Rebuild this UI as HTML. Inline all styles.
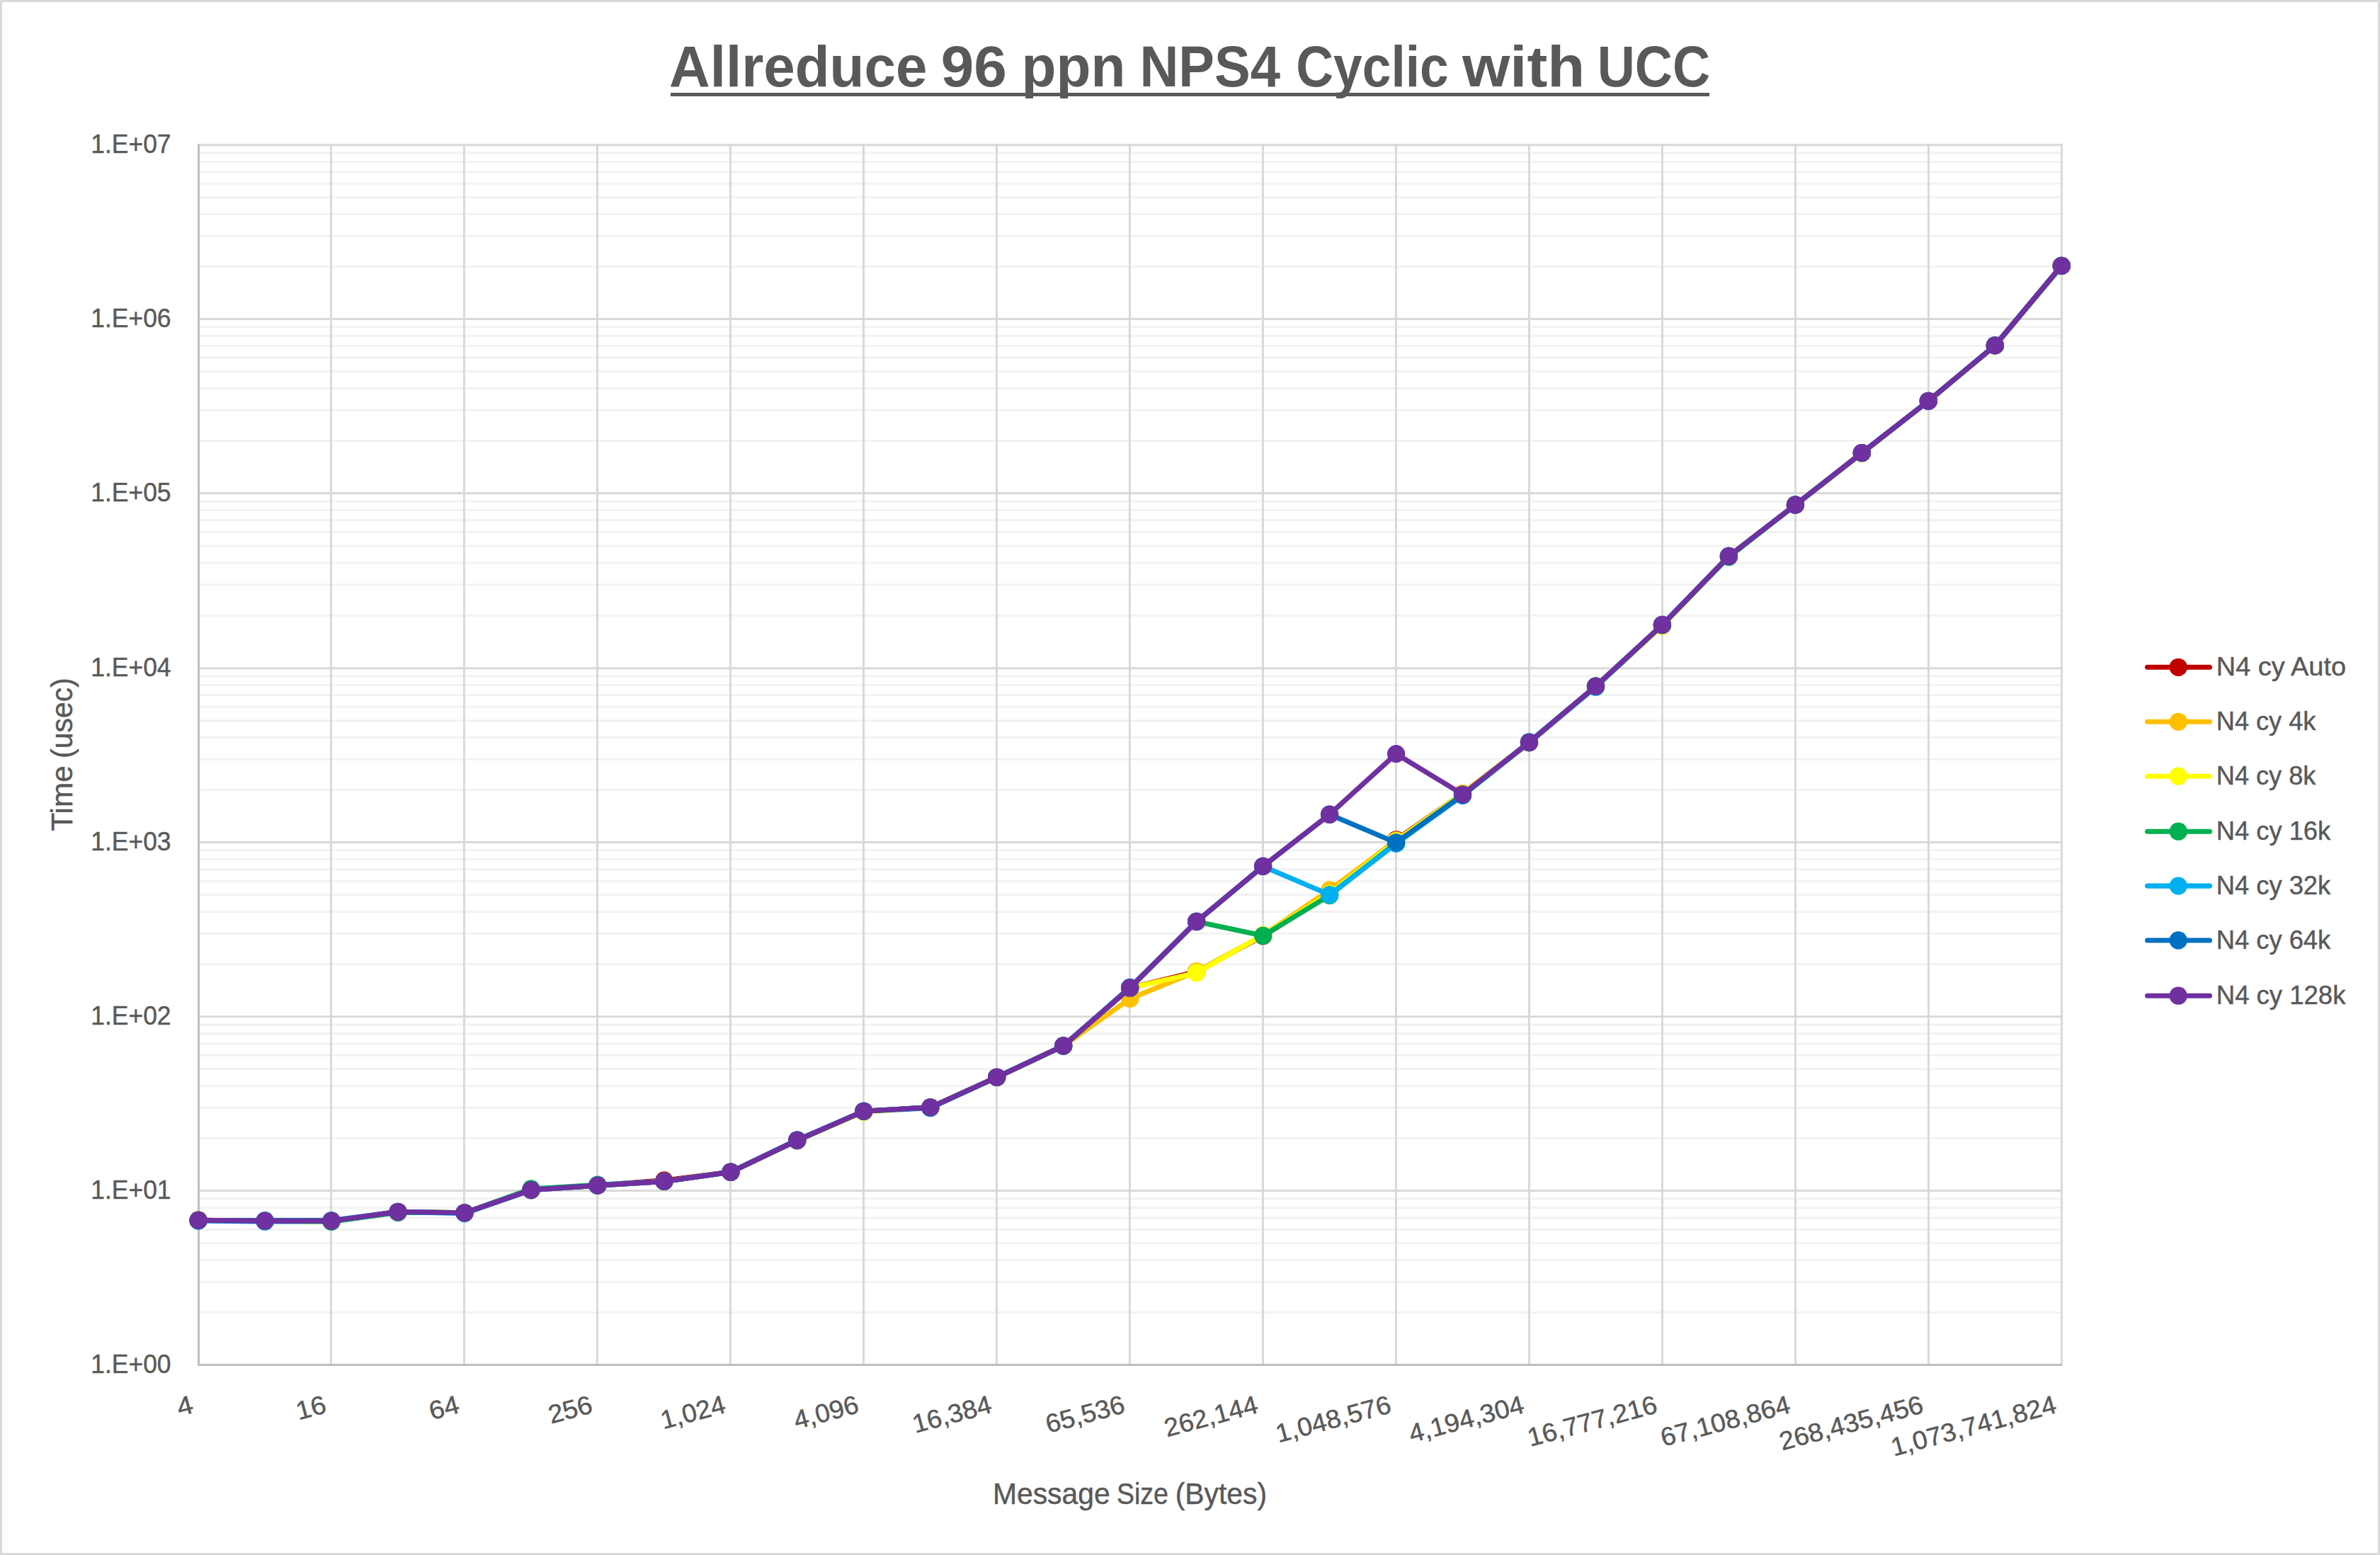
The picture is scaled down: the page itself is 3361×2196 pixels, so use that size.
<!DOCTYPE html>
<html lang="en"><head><meta charset="utf-8"><title>Allreduce 96 ppn NPS4 Cyclic with UCC</title>
<style>html,body{margin:0;padding:0;background:#fff}body{width:3361px;height:2196px;overflow:hidden}svg{display:block}</style></head>
<body>
<svg width="3361" height="2196" viewBox="0 0 3361 2196" font-family='"Liberation Sans", sans-serif' fill="#595959" stroke="#595959" stroke-width="0.45" stroke-linejoin="round">
<rect x="0" y="0" width="3361" height="2196" fill="#fff" stroke="none"/>
<rect x="1.5" y="1.5" width="3358" height="2193" fill="none" stroke="#D9D9D9" stroke-width="3"/>
<g stroke="#F2F2F2" stroke-width="3">
<line x1="282" x2="2913" y1="1853.51" y2="1853.51"/>
<line x1="282" x2="2913" y1="1810.2" y2="1810.2"/>
<line x1="282" x2="2913" y1="1779.47" y2="1779.47"/>
<line x1="282" x2="2913" y1="1755.64" y2="1755.64"/>
<line x1="282" x2="2913" y1="1736.16" y2="1736.16"/>
<line x1="282" x2="2913" y1="1719.7" y2="1719.7"/>
<line x1="282" x2="2913" y1="1705.44" y2="1705.44"/>
<line x1="282" x2="2913" y1="1692.85" y2="1692.85"/>
<line x1="282" x2="2913" y1="1607.62" y2="1607.62"/>
<line x1="282" x2="2913" y1="1564.35" y2="1564.35"/>
<line x1="282" x2="2913" y1="1533.64" y2="1533.64"/>
<line x1="282" x2="2913" y1="1509.83" y2="1509.83"/>
<line x1="282" x2="2913" y1="1490.37" y2="1490.37"/>
<line x1="282" x2="2913" y1="1473.92" y2="1473.92"/>
<line x1="282" x2="2913" y1="1459.67" y2="1459.67"/>
<line x1="282" x2="2913" y1="1447.09" y2="1447.09"/>
<line x1="282" x2="2913" y1="1361.71" y2="1361.71"/>
<line x1="282" x2="2913" y1="1318.34" y2="1318.34"/>
<line x1="282" x2="2913" y1="1287.56" y2="1287.56"/>
<line x1="282" x2="2913" y1="1263.69" y2="1263.69"/>
<line x1="282" x2="2913" y1="1244.19" y2="1244.19"/>
<line x1="282" x2="2913" y1="1227.7" y2="1227.7"/>
<line x1="282" x2="2913" y1="1213.42" y2="1213.42"/>
<line x1="282" x2="2913" y1="1200.82" y2="1200.82"/>
<line x1="282" x2="2913" y1="1115.53" y2="1115.53"/>
<line x1="282" x2="2913" y1="1072.23" y2="1072.23"/>
<line x1="282" x2="2913" y1="1041.5" y2="1041.5"/>
<line x1="282" x2="2913" y1="1017.67" y2="1017.67"/>
<line x1="282" x2="2913" y1="998.2" y2="998.2"/>
<line x1="282" x2="2913" y1="981.74" y2="981.74"/>
<line x1="282" x2="2913" y1="967.48" y2="967.48"/>
<line x1="282" x2="2913" y1="954.9" y2="954.9"/>
<line x1="282" x2="2913" y1="869.28" y2="869.28"/>
<line x1="282" x2="2913" y1="825.78" y2="825.78"/>
<line x1="282" x2="2913" y1="794.91" y2="794.91"/>
<line x1="282" x2="2913" y1="770.97" y2="770.97"/>
<line x1="282" x2="2913" y1="751.41" y2="751.41"/>
<line x1="282" x2="2913" y1="734.87" y2="734.87"/>
<line x1="282" x2="2913" y1="720.54" y2="720.54"/>
<line x1="282" x2="2913" y1="707.9" y2="707.9"/>
<line x1="282" x2="2913" y1="622.52" y2="622.52"/>
<line x1="282" x2="2913" y1="579.18" y2="579.18"/>
<line x1="282" x2="2913" y1="548.43" y2="548.43"/>
<line x1="282" x2="2913" y1="524.58" y2="524.58"/>
<line x1="282" x2="2913" y1="505.1" y2="505.1"/>
<line x1="282" x2="2913" y1="488.62" y2="488.62"/>
<line x1="282" x2="2913" y1="474.35" y2="474.35"/>
<line x1="282" x2="2913" y1="461.76" y2="461.76"/>
<line x1="282" x2="2913" y1="376.49" y2="376.49"/>
<line x1="282" x2="2913" y1="333.19" y2="333.19"/>
<line x1="282" x2="2913" y1="302.47" y2="302.47"/>
<line x1="282" x2="2913" y1="278.64" y2="278.64"/>
<line x1="282" x2="2913" y1="259.18" y2="259.18"/>
<line x1="282" x2="2913" y1="242.72" y2="242.72"/>
<line x1="282" x2="2913" y1="228.46" y2="228.46"/>
<line x1="282" x2="2913" y1="215.88" y2="215.88"/>
</g>
<g stroke="#D9D9D9" stroke-width="3">
<line x1="279" x2="2913" y1="1681.6" y2="1681.6"/>
<line x1="279" x2="2913" y1="1435.85" y2="1435.85"/>
<line x1="279" x2="2913" y1="1189.55" y2="1189.55"/>
<line x1="279" x2="2913" y1="943.65" y2="943.65"/>
<line x1="279" x2="2913" y1="696.6" y2="696.6"/>
<line x1="279" x2="2913" y1="450.5" y2="450.5"/>
<line x1="279" x2="2913" y1="204.63" y2="204.63"/>
<line x1="467.45" x2="467.45" y1="203.1" y2="1929"/>
<line x1="655.45" x2="655.45" y1="203.1" y2="1929"/>
<line x1="843.45" x2="843.45" y1="203.1" y2="1929"/>
<line x1="1031.45" x2="1031.45" y1="203.1" y2="1929"/>
<line x1="1219.45" x2="1219.45" y1="203.1" y2="1929"/>
<line x1="1407.45" x2="1407.45" y1="203.1" y2="1929"/>
<line x1="1595.45" x2="1595.45" y1="203.1" y2="1929"/>
<line x1="1783.45" x2="1783.45" y1="203.1" y2="1929"/>
<line x1="1971.45" x2="1971.45" y1="203.1" y2="1929"/>
<line x1="2159.45" x2="2159.45" y1="203.1" y2="1929"/>
<line x1="2347.45" x2="2347.45" y1="203.1" y2="1929"/>
<line x1="2535.45" x2="2535.45" y1="203.1" y2="1929"/>
<line x1="2723.45" x2="2723.45" y1="203.1" y2="1929"/>
<line x1="2911.45" x2="2911.45" y1="203.1" y2="1929"/>
</g>
<g stroke="#BFBFBF" stroke-width="3">
<line x1="280.55" x2="280.55" y1="203.1" y2="1929"/>
<line x1="279.05" x2="2912" y1="1927.55" y2="1927.55"/>
</g>
<g fill="#C00000" stroke="none"><polyline points="280.1,1723.2 374.1,1724.4 468.0,1724.3 562.0,1712.0 656.0,1712.8 750.0,1680.6 843.9,1674.1 937.9,1666.9 1031.9,1655.2 1125.8,1610.5 1219.8,1569.3 1313.8,1563.9 1407.7,1521.3 1501.7,1477.0 1595.7,1395.2 1689.7,1372.3 1783.6,1321.9 1877.6,1263.0 1971.6,1185.9 2065.5,1120.8 2159.5,1048.6 2253.5,969.1 2347.4,883.3 2441.4,785.5 2535.4,713.0 2629.3,639.6 2723.3,566.3 2817.3,487.9 2911.3,375.4" fill="none" stroke="#C00000" stroke-width="7.1" stroke-linejoin="round" stroke-linecap="round"/>
<circle cx="280.1" cy="1723.2" r="12.65"/><circle cx="374.1" cy="1724.4" r="12.65"/><circle cx="468.0" cy="1724.3" r="12.65"/><circle cx="562.0" cy="1712.0" r="12.65"/><circle cx="656.0" cy="1712.8" r="12.65"/><circle cx="750.0" cy="1680.6" r="12.65"/><circle cx="843.9" cy="1674.1" r="12.65"/><circle cx="937.9" cy="1666.9" r="12.65"/><circle cx="1031.9" cy="1655.2" r="12.65"/><circle cx="1125.8" cy="1610.5" r="12.65"/><circle cx="1219.8" cy="1569.3" r="12.65"/><circle cx="1313.8" cy="1563.9" r="12.65"/><circle cx="1407.7" cy="1521.3" r="12.65"/><circle cx="1501.7" cy="1477.0" r="12.65"/><circle cx="1595.7" cy="1395.2" r="12.65"/><circle cx="1689.7" cy="1372.3" r="12.65"/><circle cx="1783.6" cy="1321.9" r="12.65"/><circle cx="1877.6" cy="1263.0" r="12.65"/><circle cx="1971.6" cy="1185.9" r="12.65"/><circle cx="2065.5" cy="1120.8" r="12.65"/><circle cx="2159.5" cy="1048.6" r="12.65"/><circle cx="2253.5" cy="969.1" r="12.65"/><circle cx="2347.4" cy="883.3" r="12.65"/><circle cx="2441.4" cy="785.5" r="12.65"/><circle cx="2535.4" cy="713.0" r="12.65"/><circle cx="2629.3" cy="639.6" r="12.65"/><circle cx="2723.3" cy="566.3" r="12.65"/><circle cx="2817.3" cy="487.9" r="12.65"/><circle cx="2911.3" cy="375.4" r="12.65"/>
</g>
<g fill="#FFC000" stroke="none"><polyline points="280.1,1723.2 374.1,1724.4 468.0,1725.0 562.0,1711.3 656.0,1712.8 750.0,1680.6 843.9,1674.1 937.9,1668.4 1031.9,1655.2 1125.8,1610.5 1219.8,1570.1 1313.8,1563.9 1407.7,1521.3 1501.7,1477.0 1595.7,1410.4 1689.7,1372.0 1783.6,1320.8 1877.6,1256.9 1971.6,1187.0 2065.5,1120.4 2159.5,1048.6 2253.5,969.1 2347.4,883.6 2441.4,785.5 2535.4,713.0 2629.3,639.6 2723.3,566.3 2817.3,487.9 2911.3,375.4" fill="none" stroke="#FFC000" stroke-width="7.1" stroke-linejoin="round" stroke-linecap="round"/>
<circle cx="280.1" cy="1723.2" r="12.65"/><circle cx="374.1" cy="1724.4" r="12.65"/><circle cx="468.0" cy="1725.0" r="12.65"/><circle cx="562.0" cy="1711.3" r="12.65"/><circle cx="656.0" cy="1712.8" r="12.65"/><circle cx="750.0" cy="1680.6" r="12.65"/><circle cx="843.9" cy="1674.1" r="12.65"/><circle cx="937.9" cy="1668.4" r="12.65"/><circle cx="1031.9" cy="1655.2" r="12.65"/><circle cx="1125.8" cy="1610.5" r="12.65"/><circle cx="1219.8" cy="1570.1" r="12.65"/><circle cx="1313.8" cy="1563.9" r="12.65"/><circle cx="1407.7" cy="1521.3" r="12.65"/><circle cx="1501.7" cy="1477.0" r="12.65"/><circle cx="1595.7" cy="1410.4" r="12.65"/><circle cx="1689.7" cy="1372.0" r="12.65"/><circle cx="1783.6" cy="1320.8" r="12.65"/><circle cx="1877.6" cy="1256.9" r="12.65"/><circle cx="1971.6" cy="1187.0" r="12.65"/><circle cx="2065.5" cy="1120.4" r="12.65"/><circle cx="2159.5" cy="1048.6" r="12.65"/><circle cx="2253.5" cy="969.1" r="12.65"/><circle cx="2347.4" cy="883.6" r="12.65"/><circle cx="2441.4" cy="785.5" r="12.65"/><circle cx="2535.4" cy="713.0" r="12.65"/><circle cx="2629.3" cy="639.6" r="12.65"/><circle cx="2723.3" cy="566.3" r="12.65"/><circle cx="2817.3" cy="487.9" r="12.65"/><circle cx="2911.3" cy="375.4" r="12.65"/>
</g>
<g fill="#FFFF00" stroke="none"><polyline points="280.1,1723.2 374.1,1724.4 468.0,1724.3 562.0,1711.3 656.0,1712.8 750.0,1680.6 843.9,1674.1 937.9,1668.4 1031.9,1655.2 1125.8,1610.5 1219.8,1570.3 1313.8,1563.9 1407.7,1521.3 1501.7,1477.0 1595.7,1395.2 1689.7,1373.9 1783.6,1320.6 1877.6,1262.3 1971.6,1188.2 2065.5,1121.2 2159.5,1048.6 2253.5,969.1 2347.4,884.0 2441.4,785.5 2535.4,713.0 2629.3,640.4 2723.3,566.3 2817.3,487.9 2911.3,375.4" fill="none" stroke="#FFFF00" stroke-width="7.1" stroke-linejoin="round" stroke-linecap="round"/>
<circle cx="280.1" cy="1723.2" r="12.65"/><circle cx="374.1" cy="1724.4" r="12.65"/><circle cx="468.0" cy="1724.3" r="12.65"/><circle cx="562.0" cy="1711.3" r="12.65"/><circle cx="656.0" cy="1712.8" r="12.65"/><circle cx="750.0" cy="1680.6" r="12.65"/><circle cx="843.9" cy="1674.1" r="12.65"/><circle cx="937.9" cy="1668.4" r="12.65"/><circle cx="1031.9" cy="1655.2" r="12.65"/><circle cx="1125.8" cy="1610.5" r="12.65"/><circle cx="1219.8" cy="1570.3" r="12.65"/><circle cx="1313.8" cy="1563.9" r="12.65"/><circle cx="1407.7" cy="1521.3" r="12.65"/><circle cx="1501.7" cy="1477.0" r="12.65"/><circle cx="1595.7" cy="1395.2" r="12.65"/><circle cx="1689.7" cy="1373.9" r="12.65"/><circle cx="1783.6" cy="1320.6" r="12.65"/><circle cx="1877.6" cy="1262.3" r="12.65"/><circle cx="1971.6" cy="1188.2" r="12.65"/><circle cx="2065.5" cy="1121.2" r="12.65"/><circle cx="2159.5" cy="1048.6" r="12.65"/><circle cx="2253.5" cy="969.1" r="12.65"/><circle cx="2347.4" cy="884.0" r="12.65"/><circle cx="2441.4" cy="785.5" r="12.65"/><circle cx="2535.4" cy="713.0" r="12.65"/><circle cx="2629.3" cy="640.4" r="12.65"/><circle cx="2723.3" cy="566.3" r="12.65"/><circle cx="2817.3" cy="487.9" r="12.65"/><circle cx="2911.3" cy="375.4" r="12.65"/>
</g>
<g fill="#00B050" stroke="none"><polyline points="280.1,1723.2 374.1,1724.4 468.0,1725.3 562.0,1712.3 656.0,1712.8 750.0,1679.0 843.9,1673.2 937.9,1668.4 1031.9,1655.2 1125.8,1610.5 1219.8,1569.3 1313.8,1563.9 1407.7,1521.3 1501.7,1477.0 1595.7,1395.2 1689.7,1301.5 1783.6,1321.5 1877.6,1264.5 1971.6,1190.4 2065.5,1122.4 2159.5,1048.6 2253.5,969.1 2347.4,882.5 2441.4,786.6 2535.4,713.0 2629.3,639.6 2723.3,566.3 2817.3,487.9 2911.3,375.4" fill="none" stroke="#00B050" stroke-width="7.1" stroke-linejoin="round" stroke-linecap="round"/>
<circle cx="280.1" cy="1723.2" r="12.65"/><circle cx="374.1" cy="1724.4" r="12.65"/><circle cx="468.0" cy="1725.3" r="12.65"/><circle cx="562.0" cy="1712.3" r="12.65"/><circle cx="656.0" cy="1712.8" r="12.65"/><circle cx="750.0" cy="1679.0" r="12.65"/><circle cx="843.9" cy="1673.2" r="12.65"/><circle cx="937.9" cy="1668.4" r="12.65"/><circle cx="1031.9" cy="1655.2" r="12.65"/><circle cx="1125.8" cy="1610.5" r="12.65"/><circle cx="1219.8" cy="1569.3" r="12.65"/><circle cx="1313.8" cy="1563.9" r="12.65"/><circle cx="1407.7" cy="1521.3" r="12.65"/><circle cx="1501.7" cy="1477.0" r="12.65"/><circle cx="1595.7" cy="1395.2" r="12.65"/><circle cx="1689.7" cy="1301.5" r="12.65"/><circle cx="1783.6" cy="1321.5" r="12.65"/><circle cx="1877.6" cy="1264.5" r="12.65"/><circle cx="1971.6" cy="1190.4" r="12.65"/><circle cx="2065.5" cy="1122.4" r="12.65"/><circle cx="2159.5" cy="1048.6" r="12.65"/><circle cx="2253.5" cy="969.1" r="12.65"/><circle cx="2347.4" cy="882.5" r="12.65"/><circle cx="2441.4" cy="786.6" r="12.65"/><circle cx="2535.4" cy="713.0" r="12.65"/><circle cx="2629.3" cy="639.6" r="12.65"/><circle cx="2723.3" cy="566.3" r="12.65"/><circle cx="2817.3" cy="487.9" r="12.65"/><circle cx="2911.3" cy="375.4" r="12.65"/>
</g>
<g fill="#00B0F0" stroke="none"><polyline points="280.1,1724.0 374.1,1725.2 468.0,1724.3 562.0,1711.3 656.0,1713.6 750.0,1680.6 843.9,1674.1 937.9,1668.4 1031.9,1655.2 1125.8,1610.5 1219.8,1569.3 1313.8,1564.8 1407.7,1521.3 1501.7,1477.0 1595.7,1395.2 1689.7,1301.5 1783.6,1223.4 1877.6,1263.6 1971.6,1191.4 2065.5,1123.4 2159.5,1048.6 2253.5,970.2 2347.4,882.5 2441.4,785.5 2535.4,713.0 2629.3,639.6 2723.3,566.3 2817.3,487.9 2911.3,375.4" fill="none" stroke="#00B0F0" stroke-width="7.1" stroke-linejoin="round" stroke-linecap="round"/>
<circle cx="280.1" cy="1724.0" r="12.65"/><circle cx="374.1" cy="1725.2" r="12.65"/><circle cx="468.0" cy="1724.3" r="12.65"/><circle cx="562.0" cy="1711.3" r="12.65"/><circle cx="656.0" cy="1713.6" r="12.65"/><circle cx="750.0" cy="1680.6" r="12.65"/><circle cx="843.9" cy="1674.1" r="12.65"/><circle cx="937.9" cy="1668.4" r="12.65"/><circle cx="1031.9" cy="1655.2" r="12.65"/><circle cx="1125.8" cy="1610.5" r="12.65"/><circle cx="1219.8" cy="1569.3" r="12.65"/><circle cx="1313.8" cy="1564.8" r="12.65"/><circle cx="1407.7" cy="1521.3" r="12.65"/><circle cx="1501.7" cy="1477.0" r="12.65"/><circle cx="1595.7" cy="1395.2" r="12.65"/><circle cx="1689.7" cy="1301.5" r="12.65"/><circle cx="1783.6" cy="1223.4" r="12.65"/><circle cx="1877.6" cy="1263.6" r="12.65"/><circle cx="1971.6" cy="1191.4" r="12.65"/><circle cx="2065.5" cy="1123.4" r="12.65"/><circle cx="2159.5" cy="1048.6" r="12.65"/><circle cx="2253.5" cy="970.2" r="12.65"/><circle cx="2347.4" cy="882.5" r="12.65"/><circle cx="2441.4" cy="785.5" r="12.65"/><circle cx="2535.4" cy="713.0" r="12.65"/><circle cx="2629.3" cy="639.6" r="12.65"/><circle cx="2723.3" cy="566.3" r="12.65"/><circle cx="2817.3" cy="487.9" r="12.65"/><circle cx="2911.3" cy="375.4" r="12.65"/>
</g>
<g fill="#0070C0" stroke="none"><polyline points="280.1,1723.8 374.1,1723.6 468.0,1723.6 562.0,1711.3 656.0,1712.8 750.0,1680.6 843.9,1674.1 937.9,1668.4 1031.9,1655.2 1125.8,1609.8 1219.8,1569.3 1313.8,1563.9 1407.7,1521.3 1501.7,1477.0 1595.7,1394.4 1689.7,1301.5 1783.6,1223.4 1877.6,1150.2 1971.6,1189.9 2065.5,1123.0 2159.5,1047.8 2253.5,969.1 2347.4,882.5 2441.4,785.5 2535.4,713.0 2629.3,639.6 2723.3,566.3 2817.3,487.9 2911.3,375.4" fill="none" stroke="#0070C0" stroke-width="7.1" stroke-linejoin="round" stroke-linecap="round"/>
<circle cx="280.1" cy="1723.8" r="12.65"/><circle cx="374.1" cy="1723.6" r="12.65"/><circle cx="468.0" cy="1723.6" r="12.65"/><circle cx="562.0" cy="1711.3" r="12.65"/><circle cx="656.0" cy="1712.8" r="12.65"/><circle cx="750.0" cy="1680.6" r="12.65"/><circle cx="843.9" cy="1674.1" r="12.65"/><circle cx="937.9" cy="1668.4" r="12.65"/><circle cx="1031.9" cy="1655.2" r="12.65"/><circle cx="1125.8" cy="1609.8" r="12.65"/><circle cx="1219.8" cy="1569.3" r="12.65"/><circle cx="1313.8" cy="1563.9" r="12.65"/><circle cx="1407.7" cy="1521.3" r="12.65"/><circle cx="1501.7" cy="1477.0" r="12.65"/><circle cx="1595.7" cy="1394.4" r="12.65"/><circle cx="1689.7" cy="1301.5" r="12.65"/><circle cx="1783.6" cy="1223.4" r="12.65"/><circle cx="1877.6" cy="1150.2" r="12.65"/><circle cx="1971.6" cy="1189.9" r="12.65"/><circle cx="2065.5" cy="1123.0" r="12.65"/><circle cx="2159.5" cy="1047.8" r="12.65"/><circle cx="2253.5" cy="969.1" r="12.65"/><circle cx="2347.4" cy="882.5" r="12.65"/><circle cx="2441.4" cy="785.5" r="12.65"/><circle cx="2535.4" cy="713.0" r="12.65"/><circle cx="2629.3" cy="639.6" r="12.65"/><circle cx="2723.3" cy="566.3" r="12.65"/><circle cx="2817.3" cy="487.9" r="12.65"/><circle cx="2911.3" cy="375.4" r="12.65"/>
</g>
<g fill="#7030A0" stroke="none"><polyline points="280.1,1723.2 374.1,1724.4 468.0,1724.3 562.0,1711.3 656.0,1712.8 750.0,1680.6 843.9,1674.1 937.9,1668.4 1031.9,1655.2 1125.8,1610.5 1219.8,1569.3 1313.8,1563.9 1407.7,1521.3 1501.7,1477.0 1595.7,1395.2 1689.7,1301.5 1783.6,1223.4 1877.6,1150.2 1971.6,1064.6 2065.5,1121.8 2159.5,1048.6 2253.5,969.1 2347.4,882.5 2441.4,785.5 2535.4,713.0 2629.3,639.6 2723.3,566.3 2817.3,487.9 2911.3,375.4" fill="none" stroke="#7030A0" stroke-width="7.1" stroke-linejoin="round" stroke-linecap="round"/>
<circle cx="280.1" cy="1723.2" r="12.65"/><circle cx="374.1" cy="1724.4" r="12.65"/><circle cx="468.0" cy="1724.3" r="12.65"/><circle cx="562.0" cy="1711.3" r="12.65"/><circle cx="656.0" cy="1712.8" r="12.65"/><circle cx="750.0" cy="1680.6" r="12.65"/><circle cx="843.9" cy="1674.1" r="12.65"/><circle cx="937.9" cy="1668.4" r="12.65"/><circle cx="1031.9" cy="1655.2" r="12.65"/><circle cx="1125.8" cy="1610.5" r="12.65"/><circle cx="1219.8" cy="1569.3" r="12.65"/><circle cx="1313.8" cy="1563.9" r="12.65"/><circle cx="1407.7" cy="1521.3" r="12.65"/><circle cx="1501.7" cy="1477.0" r="12.65"/><circle cx="1595.7" cy="1395.2" r="12.65"/><circle cx="1689.7" cy="1301.5" r="12.65"/><circle cx="1783.6" cy="1223.4" r="12.65"/><circle cx="1877.6" cy="1150.2" r="12.65"/><circle cx="1971.6" cy="1064.6" r="12.65"/><circle cx="2065.5" cy="1121.8" r="12.65"/><circle cx="2159.5" cy="1048.6" r="12.65"/><circle cx="2253.5" cy="969.1" r="12.65"/><circle cx="2347.4" cy="882.5" r="12.65"/><circle cx="2441.4" cy="785.5" r="12.65"/><circle cx="2535.4" cy="713.0" r="12.65"/><circle cx="2629.3" cy="639.6" r="12.65"/><circle cx="2723.3" cy="566.3" r="12.65"/><circle cx="2817.3" cy="487.9" r="12.65"/><circle cx="2911.3" cy="375.4" r="12.65"/>
</g>
<text x="241.6" y="1938.8" font-size="36.5" text-anchor="end" textLength="113.4" lengthAdjust="spacingAndGlyphs">1.E+00</text>
<text x="241.6" y="1692.8" font-size="36.5" text-anchor="end" textLength="113.4" lengthAdjust="spacingAndGlyphs">1.E+01</text>
<text x="241.6" y="1447.0" font-size="36.5" text-anchor="end" textLength="113.4" lengthAdjust="spacingAndGlyphs">1.E+02</text>
<text x="241.6" y="1200.8" font-size="36.5" text-anchor="end" textLength="113.4" lengthAdjust="spacingAndGlyphs">1.E+03</text>
<text x="241.6" y="954.9" font-size="36.5" text-anchor="end" textLength="113.4" lengthAdjust="spacingAndGlyphs">1.E+04</text>
<text x="241.6" y="707.8" font-size="36.5" text-anchor="end" textLength="113.4" lengthAdjust="spacingAndGlyphs">1.E+05</text>
<text x="241.6" y="461.7" font-size="36.5" text-anchor="end" textLength="113.4" lengthAdjust="spacingAndGlyphs">1.E+06</text>
<text x="241.6" y="215.8" font-size="36.5" text-anchor="end" textLength="113.4" lengthAdjust="spacingAndGlyphs">1.E+07</text>
<text transform="translate(275.0,1994.5) rotate(-15)" font-size="36.5" text-anchor="end" textLength="22.3" lengthAdjust="spacingAndGlyphs">4</text>
<text transform="translate(462.9,1994.5) rotate(-15)" font-size="36.5" text-anchor="end" textLength="42.5" lengthAdjust="spacingAndGlyphs">16</text>
<text transform="translate(650.9,1994.5) rotate(-15)" font-size="36.5" text-anchor="end" textLength="42.5" lengthAdjust="spacingAndGlyphs">64</text>
<text transform="translate(838.8,1994.5) rotate(-15)" font-size="36.5" text-anchor="end" textLength="62.8" lengthAdjust="spacingAndGlyphs">256</text>
<text transform="translate(1026.8,1994.5) rotate(-15)" font-size="36.5" text-anchor="end" textLength="93.2" lengthAdjust="spacingAndGlyphs">1,024</text>
<text transform="translate(1214.7,1994.5) rotate(-15)" font-size="36.5" text-anchor="end" textLength="93.2" lengthAdjust="spacingAndGlyphs">4,096</text>
<text transform="translate(1402.6,1994.5) rotate(-15)" font-size="36.5" text-anchor="end" textLength="114.1" lengthAdjust="spacingAndGlyphs">16,384</text>
<text transform="translate(1590.6,1994.5) rotate(-15)" font-size="36.5" text-anchor="end" textLength="114.1" lengthAdjust="spacingAndGlyphs">65,536</text>
<text transform="translate(1778.5,1994.5) rotate(-15)" font-size="36.5" text-anchor="end" textLength="135.0" lengthAdjust="spacingAndGlyphs">262,144</text>
<text transform="translate(1966.5,1994.5) rotate(-15)" font-size="36.5" text-anchor="end" textLength="166.6" lengthAdjust="spacingAndGlyphs">1,048,576</text>
<text transform="translate(2154.4,1994.5) rotate(-15)" font-size="36.5" text-anchor="end" textLength="166.6" lengthAdjust="spacingAndGlyphs">4,194,304</text>
<text transform="translate(2342.3,1994.5) rotate(-15)" font-size="36.5" text-anchor="end" textLength="187.6" lengthAdjust="spacingAndGlyphs">16,777,216</text>
<text transform="translate(2530.3,1994.5) rotate(-15)" font-size="36.5" text-anchor="end" textLength="187.6" lengthAdjust="spacingAndGlyphs">67,108,864</text>
<text transform="translate(2718.2,1994.5) rotate(-15)" font-size="36.5" text-anchor="end" textLength="208.5" lengthAdjust="spacingAndGlyphs">268,435,456</text>
<text transform="translate(2906.2,1994.5) rotate(-15)" font-size="36.5" text-anchor="end" textLength="240.1" lengthAdjust="spacingAndGlyphs">1,073,741,824</text>
<text x="1401.9" y="2124.3" font-size="42.6" textLength="165.8" lengthAdjust="spacingAndGlyphs">Message</text>
<text x="1576.9" y="2124.3" font-size="42.6" textLength="73.0" lengthAdjust="spacingAndGlyphs">Size</text>
<text x="1659.7" y="2124.3" font-size="42.6" textLength="129.4" lengthAdjust="spacingAndGlyphs">(Bytes)</text>
<g transform="translate(102,1173.4) rotate(-90)">
<text x="-0.4" y="0" font-size="42.6" textLength="92.5" lengthAdjust="spacingAndGlyphs">Time</text>
<text x="102.5" y="0" font-size="42.6" textLength="113.8" lengthAdjust="spacingAndGlyphs">(usec)</text>
</g>
<text x="945.0" y="121.8" font-size="81" textLength="364.4" lengthAdjust="spacingAndGlyphs" font-weight="bold" stroke="none">Allreduce</text>
<text x="1328.7" y="121.8" font-size="81" textLength="93.1" lengthAdjust="spacingAndGlyphs" font-weight="bold" stroke="none">96</text>
<text x="1442.5" y="121.8" font-size="81" textLength="146.9" lengthAdjust="spacingAndGlyphs" font-weight="bold" stroke="none">ppn</text>
<text x="1609.5" y="121.8" font-size="81" textLength="198.5" lengthAdjust="spacingAndGlyphs" font-weight="bold" stroke="none">NPS4</text>
<text x="1830.3" y="121.8" font-size="81" textLength="215.4" lengthAdjust="spacingAndGlyphs" font-weight="bold" stroke="none">Cyclic</text>
<text x="2065.0" y="121.8" font-size="81" textLength="173.2" lengthAdjust="spacingAndGlyphs" font-weight="bold" stroke="none">with</text>
<text x="2255.8" y="121.8" font-size="81" textLength="159.2" lengthAdjust="spacingAndGlyphs" font-weight="bold" stroke="none">UCC</text>
<rect x="947" y="131" width="1467" height="5" fill="#595959" stroke="none"/>
<line x1="3032.5" x2="3120.5" y1="942.3" y2="942.3" stroke="#C00000" stroke-width="7.1" stroke-linecap="round"/><circle cx="3076.2" cy="942.3" r="12.65" fill="#C00000" stroke="none"/>
<text x="3129.8" y="953.9" font-size="36.5" textLength="183.2" lengthAdjust="spacingAndGlyphs">N4 cy Auto</text>
<line x1="3032.5" x2="3120.5" y1="1019.3" y2="1019.3" stroke="#FFC000" stroke-width="7.1" stroke-linecap="round"/><circle cx="3076.2" cy="1019.3" r="12.65" fill="#FFC000" stroke="none"/>
<text x="3129.8" y="1030.9" font-size="36.5" textLength="140.6" lengthAdjust="spacingAndGlyphs">N4 cy 4k</text>
<line x1="3032.5" x2="3120.5" y1="1096.2" y2="1096.2" stroke="#FFFF00" stroke-width="7.1" stroke-linecap="round"/><circle cx="3076.2" cy="1096.2" r="12.65" fill="#FFFF00" stroke="none"/>
<text x="3129.8" y="1107.8" font-size="36.5" textLength="140.6" lengthAdjust="spacingAndGlyphs">N4 cy 8k</text>
<line x1="3032.5" x2="3120.5" y1="1174.2" y2="1174.2" stroke="#00B050" stroke-width="7.1" stroke-linecap="round"/><circle cx="3076.2" cy="1174.2" r="12.65" fill="#00B050" stroke="none"/>
<text x="3129.8" y="1185.8" font-size="36.5" textLength="161.4" lengthAdjust="spacingAndGlyphs">N4 cy 16k</text>
<line x1="3032.5" x2="3120.5" y1="1251.1" y2="1251.1" stroke="#00B0F0" stroke-width="7.1" stroke-linecap="round"/><circle cx="3076.2" cy="1251.1" r="12.65" fill="#00B0F0" stroke="none"/>
<text x="3129.8" y="1262.7" font-size="36.5" textLength="161.4" lengthAdjust="spacingAndGlyphs">N4 cy 32k</text>
<line x1="3032.5" x2="3120.5" y1="1328.0" y2="1328.0" stroke="#0070C0" stroke-width="7.1" stroke-linecap="round"/><circle cx="3076.2" cy="1328.0" r="12.65" fill="#0070C0" stroke="none"/>
<text x="3129.8" y="1339.6" font-size="36.5" textLength="161.4" lengthAdjust="spacingAndGlyphs">N4 cy 64k</text>
<line x1="3032.5" x2="3120.5" y1="1406.2" y2="1406.2" stroke="#7030A0" stroke-width="7.1" stroke-linecap="round"/><circle cx="3076.2" cy="1406.2" r="12.65" fill="#7030A0" stroke="none"/>
<text x="3129.8" y="1417.8" font-size="36.5" textLength="182.6" lengthAdjust="spacingAndGlyphs">N4 cy 128k</text>
</svg>
</body></html>
